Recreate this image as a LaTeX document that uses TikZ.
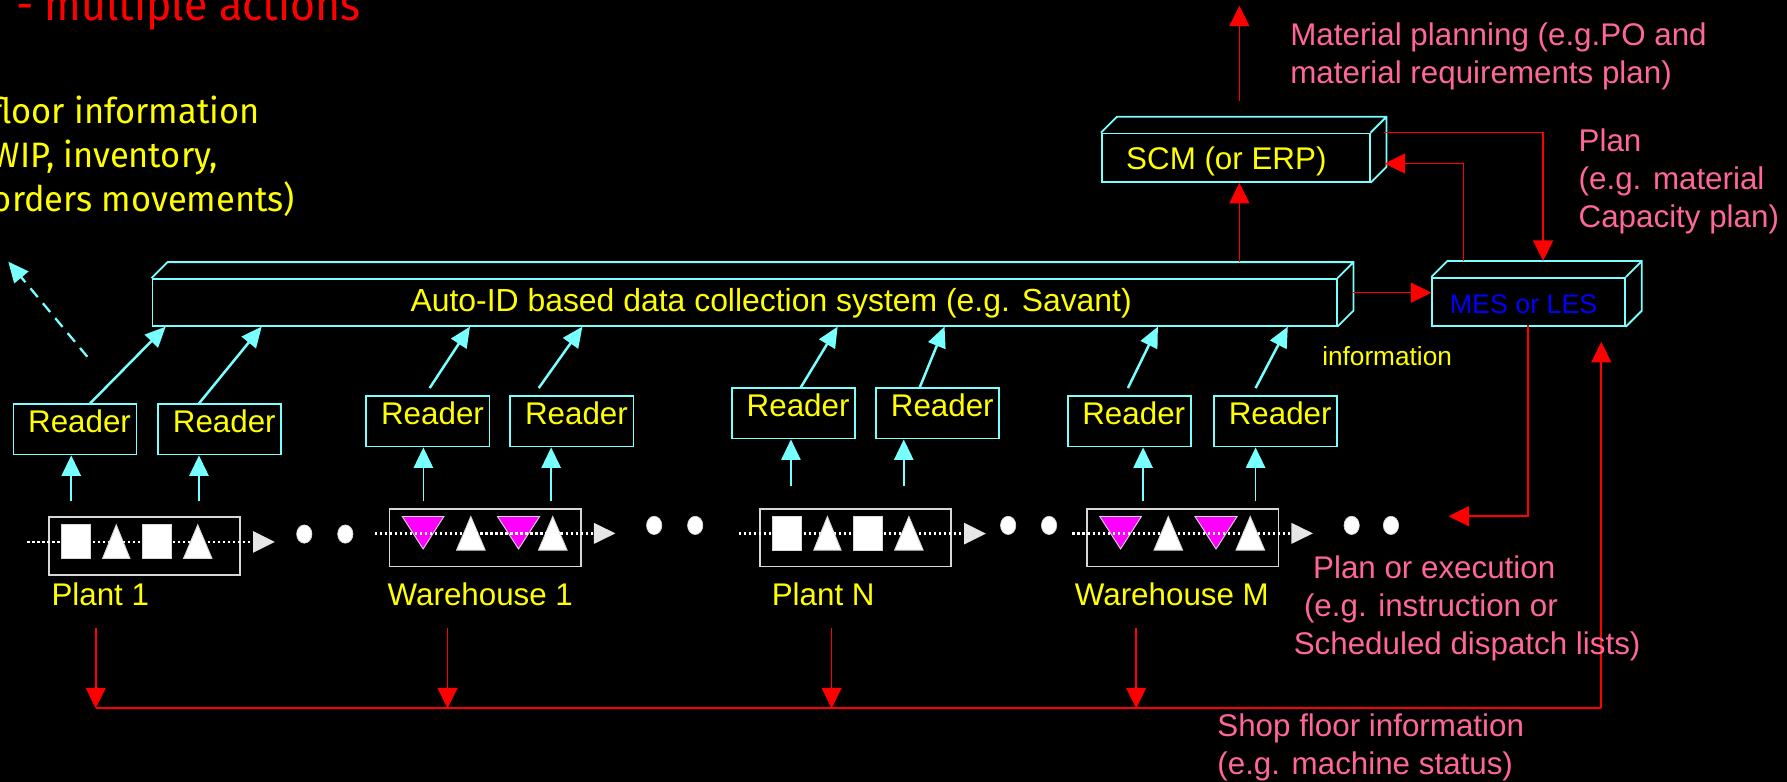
\documentclass[tikz,border=0pt]{standalone}
\usepackage{fontspec}
\setmainfont{Liberation Sans}
\newfontfamily\firafont[FakeStretch=0.94]{Fira Sans}
\newfontfamily\firayfont[FakeStretch=0.975]{Fira Sans}
\usetikzlibrary{arrows.meta,calc}
\definecolor{cy}{RGB}{120,255,255}
\definecolor{pk}{RGB}{255,102,153}
\definecolor{yl}{RGB}{255,255,0}
\definecolor{rd}{RGB}{255,0,0}
\definecolor{mg}{RGB}{255,0,255}
\definecolor{bl}{RGB}{0,0,255}
\definecolor{gr}{RGB}{215,215,215}
\definecolor{tri}{RGB}{230,230,230}
\newcommand\boxtop[2]{%
  \draw[cyline] (#1.north west) -- ++(#2,-#2) -- ($(#1.north east)+(#2,-#2)$) -- ($(#1.south east)+(#2,-#2)$) -- (#1.south east)
    (#1.north east) -- ++(#2,-#2);}
\newcommand\plantshapes[1]{%
  \begin{scope}[shift={(#1.north west)}]
    \draw[white,line width=2pt,dash pattern=on 2pt off 2.4pt] (-18,22.5) -- (180,22.5);
    \filldraw[shp] (12,7.5) rectangle (37,37);
    \filldraw[shp] (48,37) -- (60,7.5) -- (72,37) -- cycle;
    \filldraw[shp] (83,7.5) rectangle (108.5,37);
    \filldraw[shp] (119,37) -- (131.5,7.5) -- (144,37) -- cycle;
    \fill[tri] (180,13) -- (199,22.5) -- (180,32) -- cycle;
  \end{scope}}
\newcommand\whshapes[1]{%
  \begin{scope}[shift={(#1.north west)}]
    \filldraw[mgs] (12,7.5) -- (48.5,7.5) -- (30.25,36) -- cycle;
    \filldraw[shp] (59.6,37) -- (72.1,7.5) -- (84.7,37) -- cycle;
    \filldraw[mgs] (95.5,7.5) -- (132.5,7.5) -- (114,36) -- cycle;
    \filldraw[shp] (131.5,37) -- (144,7.5) -- (156.6,37) -- cycle;
    \draw[white,line width=2pt,dash pattern=on 2pt off 2.4pt] (-12,22.3) -- (180,22.3);
    \fill[tri] (180,13) -- (199,22.3) -- (180,31.6) -- cycle;
  \end{scope}}
\begin{document}
\begin{tikzpicture}[x=1pt,y=-1pt,
  cyline/.style={draw=cy,line width=1.6pt},
  readerbox/.style={draw=cy,line width=1.6pt,minimum width=108pt,minimum height=44pt,inner sep=0pt,anchor=north west},
  sysbox/.style={draw=cy,line width=1.6pt,inner sep=0pt,anchor=north west},
  plantbox/.style={draw=gr,line width=1.6pt,minimum width=168pt,minimum height=50.5pt,inner sep=0pt,anchor=north west},
  atext/.style={font=\fontsize{27.5}{33}\selectfont,inner sep=0pt,anchor=base west},
  rtext/.style={atext,text=yl},
  ptext/.style={atext,text=pk},
  ytop/.style={anchor=base east,inner sep=0pt,text=yl,font=\firayfont\fontsize{31}{37}\selectfont},
  shp/.style={fill=white,draw=gr,line width=0.8pt},
  mgs/.style={fill=mg,draw=gr,line width=0.8pt},
  cyarrow/.style={draw=cy,line width=1.5pt,-{Triangle[length=18pt,width=17pt]}},
  cydiag/.style={draw=cy,line width=2.2pt,-{Triangle[length=18pt,width=16pt]}},
  rdarrow/.style={draw=rd,line width=1.4pt,-{Triangle[length=18pt,width=17.5pt]}},
  rdline/.style={draw=rd,line width=1.4pt},
  dotell/.style={fill=white,draw=gr,line width=0.6pt}]
\useasboundingbox (0,0) rectangle (1568,686);
\fill[black] (0,0) rectangle (1568,686);
\clip (0,0) rectangle (1568,686);

% top-left texts
\node[anchor=base west,inner sep=0pt,text=rd,font=\firafont\fontsize{40}{48}\selectfont] (ttl) at (14,18) {- multiple actions};
\node[ytop] (sf1) at (228,108) {floor information};
\node[ytop] (sf2) at (191.6,147.4) {WIP, inventory,};
\node[ytop] (sf3) at (259,186) {orders movements)};

% system boxes
\node[sysbox,minimum width=1039pt,minimum height=41pt] (auto) at (133,244) {};
\boxtop{auto}{14}
\node[rtext,font=\fontsize{28}{33}\selectfont] (autot) at (360,273.5) {Auto-ID based data collection system (e.g. Savant)};
\node[sysbox,minimum width=235pt,minimum height=42.4pt] (scm) at (966,116.4) {};
\boxtop{scm}{14}
\node[rtext] (scmt) at (988,149) {SCM (or ERP)};
\node[sysbox,minimum width=169pt,minimum height=42pt] (mes) at (1256,243) {};
\boxtop{mes}{14}
\node[atext,text=bl,font=\fontsize{23.5}{28}\selectfont] (mest) at (1272,275) {MES or LES};

% readers
\foreach \n/\x/\y in {r1/11/354,r2/138/354,r3/320.7/347,r4/447/347,r5/641.5/340,r6/768/340,r7/936/347,r8/1064.5/347}{
  \node[readerbox] (\n) at (\x,\y) {};
  \node[rtext] (\n t) at ($(\n.north west)+(13.5,25.5)$) {Reader};
}

% plant / warehouse boxes
\node[plantbox,minimum height=50.6pt] (p1) at (42,453) {};
\node[plantbox] (w1) at (341,445.7) {};
\node[plantbox] (pn) at (666,445.7) {};
\node[plantbox] (wm) at (953,445.7) {};
\plantshapes{p1}
\whshapes{w1}
\plantshapes{pn}
\whshapes{wm}
\node[rtext] (p1t) at (45,531.7) {Plant 1};
\node[rtext] (w1t) at (340,531.7) {Warehouse 1};
\node[rtext] (pnt) at (677,531.7) {Plant N};
\node[rtext] (wmt) at (943,531.7) {Warehouse M};

% ellipsis dots
\foreach \x/\y in {267/468.6,303/468.6,574/461,610/461,884.6/461,920.5/461,1186/461,1220.5/461}{
  \filldraw[dotell] (\x,\y) ellipse [x radius=6.7pt,y radius=8pt];
}

% cyan arrows plant -> reader
\foreach \n/\x/\y in {r1/62.5/440,r2/174.6/440,r3/371.5/440,r4/483.6/440,r5/694/426.5,r6/793/426.5,r7/1003/440,r8/1101.7/440}{
  \coordinate (s\n) at (\x,\y);
  \draw[cyarrow] (s\n) -- (s\n |- \n.south);
}

% cyan arrows reader -> auto-id
\draw[cydiag] ($(r1.north west)+(68,0)$) -- ($(auto.south west)+(12.4,0)$);
\draw[cydiag] ($(r2.north west)+(36.6,0)$) -- ($(auto.south west)+(96.6,0)$);
\draw[cydiag] ($(r3.north west)+(56.3,-6.5)$) -- ($(auto.south west)+(279.4,0)$);
\draw[cydiag] ($(r4.north west)+(25.7,-6.5)$) -- ($(auto.south west)+(378,0)$);
\draw[cydiag] ($(r5.north west)+(61.1,0)$) -- ($(auto.south west)+(602,0)$);
\draw[cydiag] ($(r6.north west)+(39,0)$) -- ($(auto.south west)+(695.8,0)$);
\draw[cydiag] ($(r7.north west)+(53.7,-6.5)$) -- ($(auto.south west)+(883,0)$);
\draw[cydiag] ($(r8.north west)+(37.2,-6.5)$) -- ($(auto.south west)+(997,0)$);

% dashed cyan arrow
\coordinate (dsa) at (76.6,313);
\coordinate (dsb) at (7.3,229.6);
\draw[cydiag,line width=2pt,dash pattern=on 10pt off 7pt] (dsa) -- (dsb);

% red connectors
\coordinate (mpa) at (1087.5,89);
\coordinate (mpb) at (1087.5,5);
\draw[rdarrow] (mpa) -- (mpb);
\coordinate (autoup) at (1087.5,229.6);
\draw[rdarrow] (autoup) -- (autoup |- scm.south);
\coordinate (autor) at (1186,256.8);
\draw[rdarrow] (autor) -- (autor -| mes.west);
\coordinate (scmr) at (1214,116.4);
\coordinate (mestopa) at (1354,229);
\draw[rdarrow] (scmr) -| (mestopa);
\coordinate (mestopb) at (1284,229);
\coordinate (scmr2) at (1215,143.5);
\draw[rdarrow] (mestopb) |- (scmr2);
\coordinate (mesbot) at (1340.7,285);
\coordinate (planx) at (1271,453);
\draw[rdarrow] (mesbot) |- (planx);

\foreach \i/\x in {1/84,2/392.7,3/729.7,4/996.9}{
  \coordinate (fa\i) at (\x,551);
  \coordinate (fb\i) at (\x,621.5);
  \draw[rdarrow] (fa\i) -- (fb\i);
}
\coordinate (bend) at (1405,621.5);
\coordinate (fbtip) at (1405,300);
\draw[rdline,line width=2pt] (fb1) -- (bend);
\draw[rdarrow] (bend) -- (fbtip);

% labels
\node[ptext] (mp1) at (1132,39.5) {Material planning (e.g.PO and};
\node[ptext] (mp2) at (1132,73) {material requirements plan)};
\node[ptext] (pl1) at (1385,133) {Plan};
\node[ptext] (pl2) at (1385,166.7) {(e.g. material};
\node[ptext] (pl3) at (1385,200) {Capacity plan)};
\node[atext,text=yl,font=\fontsize{23}{28}\selectfont] (info) at (1160,321) {information};
\node[ptext] (pe1) at (1152,508) {Plan or execution};
\node[ptext] (pe2) at (1144,541) {(e.g. instruction or};
\node[ptext] (pe3) at (1135,574) {Scheduled dispatch lists)};
\node[ptext] (sf4) at (1068,646.5) {Shop floor information};
\node[ptext] (sf5) at (1068,680) {(e.g. machine status)};
\end{tikzpicture}
\end{document}
